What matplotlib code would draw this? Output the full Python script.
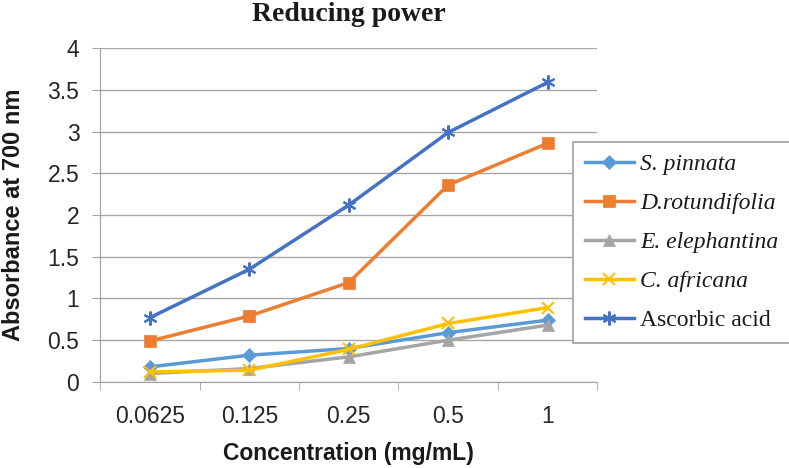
import matplotlib.pyplot as plt
import numpy as np

concentrations = ["0.0625", "0.125", "0.25", "0.5", "1"]

s_pinnata = [0.18, 0.32, 0.40, 0.59, 0.74]
d_rotundifolia = [0.49, 0.79, 1.19, 2.36, 2.86]
e_elephantina = [0.10, 0.16, 0.30, 0.50, 0.68]
c_africana = [0.12, 0.14, 0.39, 0.70, 0.89]
ascorbic_acid = [0.77, 1.35, 2.12, 2.99, 3.59]

series = [
    ("S. pinnata", s_pinnata, "#5B9BD5", "D", 7, "italic"),
    ("D.rotundifolia", d_rotundifolia, "#ED7D31", "s", 8, "italic"),
    ("E. elephantina", e_elephantina, "#A5A5A5", "^", 8, "italic"),
    ("C. africana", c_africana, "#FFC000", "x", 9, "italic"),
    ("Ascorbic acid", ascorbic_acid, "#4472C4", (6, 2, 0), 10, "normal"),
]

fig = plt.figure(figsize=(7.89, 4.68), dpi=100)
ax = fig.add_axes([0.127, 0.184, 0.63, 0.713])

x = np.arange(len(concentrations))
handles = []
for name, vals, color, marker, ms, style in series:
    (h,) = ax.plot(x, vals, color=color, lw=2.5, marker=marker, markersize=ms,
                   markeredgewidth=1.5 if marker in ("x", (6, 2, 0)) else 0.5,
                   markeredgecolor=color, zorder=3)
    handles.append(h)

ax.set_xlim(-0.5, len(concentrations) - 0.5)
ax.set_ylim(0, 4)
ax.set_yticks(np.arange(0, 4.01, 0.5))
ax.set_yticklabels(["0", "0.5", "1", "1.5", "2", "2.5", "3", "3.5", "4"])
ax.set_xticks(x)
ax.set_xticklabels(concentrations)
ax.set_xticks(np.arange(-0.5, len(concentrations), 1), minor=True)
ax.tick_params(axis="x", which="major", length=0, pad=17)
ax.tick_params(axis="x", which="minor", length=6, color="#A0A0A0")
ax.tick_params(axis="y", length=6, color="#A0A0A0", pad=9)
for lab in ax.get_xticklabels() + ax.get_yticklabels():
    lab.set_fontfamily("Liberation Sans")
    lab.set_fontsize(16.5)
    lab.set_color("#262626")

ax.grid(axis="y", color="#A6A6A6", lw=1)
ax.set_axisbelow(True)
for side in ("top", "right"):
    ax.spines[side].set_visible(False)
ax.spines["left"].set_color("#A0A0A0")
ax.spines["bottom"].set_color("#A0A0A0")

fig.text(0.442, 0.995, "Reducing power", ha="center", va="top",
         fontfamily="Liberation Serif", fontweight="bold", fontsize=20,
         color="#1a1a1a")
ax.set_xlabel("Concentration (mg/mL)", fontfamily="Liberation Sans",
              fontweight="bold", fontsize=16.5, labelpad=10, color="#1a1a1a")
ax.yaxis.set_label_coords(-0.152, 0.5)
ax.set_ylabel("Absorbance at 700 nm", fontfamily="Liberation Sans",
              fontweight="bold", fontsize=17, color="#1a1a1a")

leg = fig.legend(handles, [s[0] for s in series], loc="upper left",
                 bbox_to_anchor=(0.726, 0.697), borderaxespad=0,
                 frameon=True, fancybox=False,
                 edgecolor="#A0A0A0", framealpha=1, handlelength=2.1,
                 labelspacing=0.74, borderpad=0.5, handletextpad=0.25,
                 prop={"family": "Liberation Serif", "size": 17})
leg.get_frame().set_linewidth(1.2)
for text, s in zip(leg.get_texts(), series):
    text.set_fontstyle(s[5])
    text.set_color("#1a1a1a")

fig.savefig("out.png", dpi=100)
